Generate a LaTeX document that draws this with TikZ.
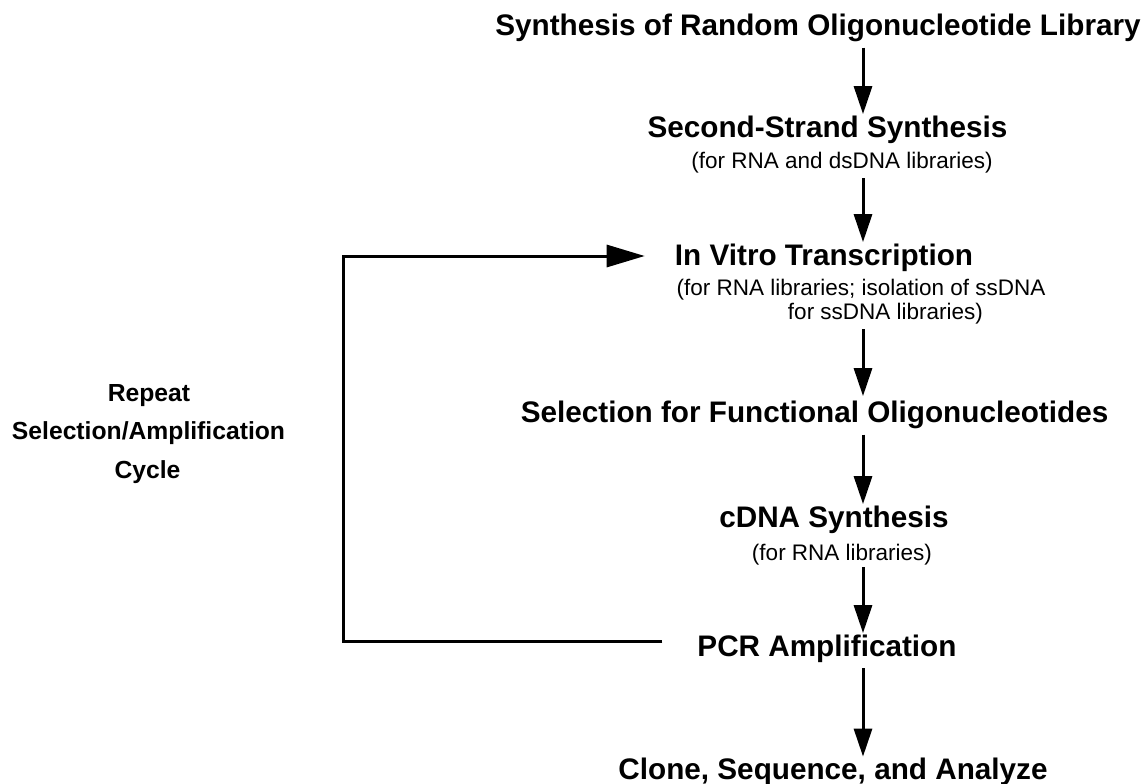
\documentclass[tikz,border=0pt]{standalone}
\usepackage{fontspec}
\setmainfont{Liberation Sans}
\usetikzlibrary{arrows.meta}
\begin{document}
\begin{tikzpicture}[x=1bp,y=-1bp,
  headtext/.style={font=\fontsize{29.7bp}{34bp}\selectfont\bfseries, inner sep=0pt, text height=22.3bp, text depth=7.4bp, anchor=base},
  subtext/.style={font=\fontsize{22.5bp}{26bp}\selectfont, inner sep=0pt, text height=16.9bp, text depth=5.6bp, anchor=base},
  cyctext/.style={font=\fontsize{24.7bp}{28bp}\selectfont\bfseries, inner sep=0pt, anchor=base},
  flowarrow/.style={line width=3bp, -{Triangle[length=28bp,width=18bp]}, shorten <=4.5bp, shorten >=1bp},
  fbline/.style={line width=3bp, line join=miter, -{Triangle[length=38bp,width=22bp]}}]
\useasboundingbox (0,0) rectangle (1148,784);

% main column
\node[headtext] (title) at (818,35.6) {Synthesis of Random Oligonucleotide Library};
\node[headtext] (second) at (827.5,137.6) {Second-Strand Synthesis};
\node[subtext] (secondsub) at (842,168.1) {(for RNA and dsDNA libraries)};
\node[headtext] (ivt) at (824,265.6) {In Vitro Transcription};
\node[subtext] (ivtsuba) at (861,295) {(for RNA libraries; isolation of ssDNA};
\node[subtext] (ivtsubb) at (885.5,319) {for ssDNA libraries)};
\node[headtext] (sel) at (814.5,422.6) {Selection for Functional Oligonucleotides};
\node[headtext] (cdna) at (834,527.6) {cDNA Synthesis};
\node[subtext] (cdnasub) at (842,560) {(for RNA libraries)};
\node[headtext] (pcr) at (827,656.6) {PCR Amplification};
\node[headtext] (clone) at (833,779.6) {Clone, Sequence, and Analyze};

% left label
\node[cyctext] (rep) at (149,401.9) {Repeat};
\node[cyctext] (selamp) at (148.5,439.9) {Selection/Amplification};
\node[cyctext] (cyc) at (147.5,478.9) {Cycle};

% arrows
\coordinate (col) at (863,0);
\draw[flowarrow] (title.south -| col) -- (second.north -| col);
\draw[flowarrow] (secondsub.south -| col) -- (ivt.north -| col);
\draw[flowarrow, shorten >=4bp] (ivtsubb.south -| col) -- (sel.north -| col);
\draw[flowarrow] (sel.south -| col) -- (cdna.north -| col);
\draw[flowarrow, shorten <=1.5bp] (cdnasub.south -| col) -- (pcr.north -| col);
\draw[flowarrow, shorten <=4bp, shorten >=0.5bp] (pcr.south -| col) -- (clone.north -| col);

% feedback loop
\coordinate (lb) at (343,641);
\coordinate (lt) at (343,256);
\draw[fbline] ([xshift=-35bp]pcr.west |- lb) -- (lb) -- (lt) -- ([xshift=-30bp]ivt.west |- lt);
\end{tikzpicture}
\end{document}
